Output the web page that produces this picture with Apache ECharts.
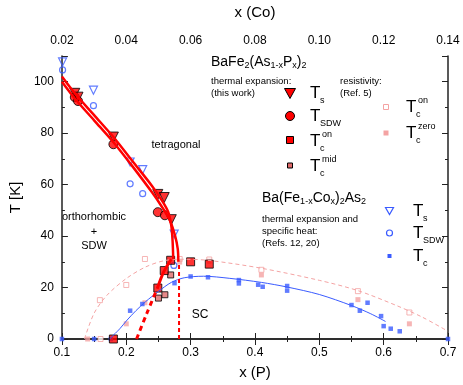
<!DOCTYPE html>
<html>
<head>
<meta charset="utf-8">
<script src="https://cdn.jsdelivr.net/npm/echarts@6/dist/echarts.min.js"></script>
<style>
  html, body { margin: 0; background: #fff; }
  #chart { width: 463px; height: 385px; }
</style>
</head>
<body>
<div id="chart"></div>
<script>
// BaFe2(As1-xPx)2, thermal expansion (this work) -- [x(P), T]
var pTs = [[0.12, 95.5], [0.125, 94], [0.18, 78.5], [0.249, 56.2], [0.259, 55], [0.27, 46.4]];
var pTsdw = [[0.12, 94], [0.125, 92.5], [0.18, 75.7], [0.249, 49.3], [0.26, 48.1]];
var pTcOn = [[0.18, 0], [0.249, 19.8], [0.259, 26.6], [0.269, 30.6], [0.3, 30], [0.329, 29.1]];
var pTcMid = [[0.25, 15.9], [0.26, 17.2], [0.269, 24.9]];

// resistivity, Ref. 5 -- [x(P), T]
var resTcOn = [[0.16, 0], [0.159, 15.1], [0.2, 21], [0.229, 31.1], [0.283, 31.1], [0.329, 30.9], [0.41, 26.9], [0.56, 18.6], [0.64, 10.3]];
var resTcZero = [[0.14, 0], [0.2, 5.9], [0.229, 14.1], [0.283, 29.9], [0.329, 30.2], [0.41, 24.9], [0.56, 15.3], [0.64, 5.9]];

// Ba(Fe1-xCox)2As2 (Refs. 12, 20) -- [x(Co), T]
var coTs = [[0.0202, 107.7], [0.0298, 96.7], [0.0412, 68.8], [0.0451, 65.8], [0.0549, 40.8]];
var coTsdw = [[0.0202, 104.6], [0.0298, 90.7], [0.0412, 60.3], [0.0451, 56.5], [0.0548, 28.6]];
var coTc = [[0.02, 0], [0.03, 0], [0.0352, 0], [0.0412, 11], [0.045, 13.6], [0.055, 21.7], [0.06, 24.3],
  [0.0654, 24], [0.075, 22.9], [0.075, 21.6], [0.081, 21.1], [0.0824, 20.3], [0.09, 20.6], [0.09, 18.8],
  [0.11, 13.2], [0.1126, 11], [0.115, 14.1], [0.1192, 8.9], [0.12, 5], [0.1222, 4], [0.125, 3], [0.14, 0]];

// guide lines
var tsLine = [[0.1, 102], [0.12, 95.5], [0.15, 87], [0.18, 78.5], [0.21, 69], [0.24, 59.5], [0.255, 54], [0.265, 49.5], [0.27, 44], [0.272, 38], [0.273, 31]];
var sdwLine = [[0.1, 100], [0.12, 93.5], [0.15, 85], [0.18, 76.5], [0.21, 67], [0.24, 57], [0.255, 51.5], [0.268, 46], [0.276, 40], [0.28, 35], [0.281, 30]];
var tcLine = [[0.248, 19.5], [0.258, 26], [0.27, 31]];
var tcDash = [[0.216, 0], [0.232, 10], [0.248, 19.5]];
var tcVert = [[0.282, 0], [0.282, 30]];
var resCurve = [[0.135, 0], [0.15, 10], [0.17, 17], [0.2, 23.5], [0.23, 28], [0.26, 30.5], [0.29, 31], [0.33, 30.5],
  [0.41, 27.5], [0.5, 22.8], [0.56, 18.8], [0.62, 13], [0.66, 8.5], [0.7, 3]];
var coCurve = [[0.0348, 0], [0.038, 4], [0.04, 7], [0.043, 11], [0.046, 14.5], [0.05, 18.5], [0.054, 22], [0.058, 23.8],
  [0.064, 24.4], [0.072, 23.6], [0.082, 22], [0.09, 20.2], [0.1, 17.3], [0.11, 13], [0.116, 9.8], [0.1206, 6.8]];

var RED = '#ff0000', BLUE = '#3a5bff', PINK = '#f4a3a3', MID = '#e06a6a';
var FONT = 'Liberation Sans, Arial, sans-serif';

function curve(data, color, width, type, xi) {
  return { type: 'line', data: data, xAxisIndex: xi || 0, showSymbol: false, smooth: 0.3, silent: true,
    lineStyle: { color: color, width: width, type: type || 'solid' } };
}
function dots(data, symbol, size, fill, border, bw, xi, rot) {
  return { type: 'scatter', data: data, xAxisIndex: xi || 0, symbol: symbol, symbolSize: size, symbolRotate: rot || 0,
    itemStyle: { color: fill, borderColor: border, borderWidth: bw } };
}
function txt(x, y, s, size, align) {
  return { type: 'text', x: x, y: y, style: { text: s, fontSize: size, fontFamily: FONT, fill: '#000',
    align: align || 'left', verticalAlign: 'middle' } };
}
// "T" with subscript and optional superscript
function tLabel(x, y, sub, sup) {
  var a = [txt(x, y, 'T', 17), txt(x + 10, y + 8, sub, 9)];
  if (sup) a.push(txt(x + 12, y - 6, sup, 9));
  return a;
}
var none = 'rgba(0,0,0,0)';

var graphics = [
  { type: 'text', x: 211, y: 62, style: { text: 'BaFe{s|2}(As{s|1-x}P{s|x}){s|2}', fontSize: 14, fontFamily: FONT,
    verticalAlign: 'middle', rich: { s: { fontSize: 9, verticalAlign: 'bottom', padding: [8, 0, 0, 0] } } } },
  txt(211, 81, 'thermal expansion:', 9.5), txt(211, 93, '(this work)', 9.5),
  txt(340, 81, 'resistivity:', 9.5), txt(340, 93, '(Ref. 5)', 9.5),
  { type: 'text', x: 262, y: 198, style: { text: 'Ba(Fe{s|1-x}Co{s|x}){s|2}As{s|2}', fontSize: 14, fontFamily: FONT,
    verticalAlign: 'middle', rich: { s: { fontSize: 9, verticalAlign: 'bottom', padding: [8, 0, 0, 0] } } } },
  txt(262, 219, 'thermal expansion and', 9.5), txt(262, 231, 'specific heat:', 9.5), txt(262, 243, '(Refs. 12, 20)', 9.5),
  txt(176, 145, 'tetragonal', 11, 'center'),
  txt(94, 217, 'orthorhombic', 11, 'center'), txt(94, 232, '+', 11, 'center'), txt(94, 246, 'SDW', 11, 'center'),
  txt(200, 315, 'SC', 12, 'center'),
  // legend symbols
  { type: 'polygon', shape: { points: [[284.5, 88.5], [295.5, 88.5], [290, 98.5]] }, style: { fill: RED, stroke: '#000', lineWidth: 1 } },
  { type: 'circle', shape: { cx: 290, cy: 116, r: 4.5 }, style: { fill: RED, stroke: '#000', lineWidth: 1 } },
  { type: 'rect', shape: { x: 286.5, y: 136.5, width: 7, height: 7 }, style: { fill: RED, stroke: '#000', lineWidth: 1 } },
  { type: 'rect', shape: { x: 287.5, y: 163, width: 5, height: 5 }, style: { fill: MID, stroke: '#000', lineWidth: 1 } },
  { type: 'rect', shape: { x: 383.5, y: 104.5, width: 5, height: 5 }, style: { fill: '#fff', stroke: PINK, lineWidth: 1 } },
  { type: 'rect', shape: { x: 383.5, y: 130.5, width: 5, height: 5 }, style: { fill: PINK } },
  { type: 'polygon', shape: { points: [[385.5, 207.5], [393.5, 207.5], [389.5, 214.5]] }, style: { fill: none, stroke: BLUE, lineWidth: 1.2 } },
  { type: 'circle', shape: { cx: 389.5, cy: 233, r: 3 }, style: { fill: none, stroke: BLUE, lineWidth: 1.2 } },
  { type: 'rect', shape: { x: 387.5, y: 254, width: 4, height: 4 }, style: { fill: BLUE } }
].concat(
  tLabel(310, 93, 's'), tLabel(310, 116, 'SDW'), tLabel(310, 141, 'c', 'on'), tLabel(310, 166, 'c', 'mid'),
  tLabel(406, 107, 'c', 'on'), tLabel(406, 133, 'c', 'zero'),
  tLabel(413, 211, 's'), tLabel(413, 233, 'SDW'), tLabel(413, 256, 'c')
);

var axisLine = { show: true, lineStyle: { color: '#222', width: 1.5 } };
var labelStyle = { color: '#000', fontSize: 12, fontFamily: FONT };
var option = {
  animation: false,
  grid: { left: 52, right: 15, top: 48, bottom: 45 },
  xAxis: [
    { type: 'value', position: 'bottom', min: 0.1, max: 0.7, interval: 0.1,
      name: 'x (P)', nameLocation: 'middle', nameGap: 26, nameTextStyle: { fontSize: 15, fontFamily: FONT, color: '#000' },
      axisLine: axisLine, axisTick: { inside: true, length: 6, lineStyle: { color: '#222' } },
      minorTick: { show: true, splitNumber: 2, length: 3, lineStyle: { color: '#222' } },
      axisLabel: Object.assign({ formatter: function (v) { return v.toFixed(1); } }, labelStyle), splitLine: { show: false } },
    { type: 'value', position: 'top', min: 0.02, max: 0.14, interval: 0.02,
      name: 'x (Co)', nameLocation: 'middle', nameGap: 36, nameTextStyle: { fontSize: 15, fontFamily: FONT, color: '#000' },
      axisLine: axisLine, axisTick: { inside: true, length: 6, lineStyle: { color: '#222' } },
      minorTick: { show: true, splitNumber: 2, length: 3, lineStyle: { color: '#222' } },
      axisLabel: Object.assign({ margin: 9, formatter: function (v) { return v.toFixed(2); } }, labelStyle), splitLine: { show: false } }
  ],
  yAxis: [
    { type: 'value', position: 'left', min: 0, max: 110, interval: 20,
      name: 'T [K]', nameLocation: 'middle', nameGap: 33, nameTextStyle: { fontSize: 15, fontFamily: FONT, color: '#000' },
      axisLine: axisLine, axisTick: { inside: true, length: 6, lineStyle: { color: '#222' } },
      minorTick: { show: true, splitNumber: 2, length: 3, lineStyle: { color: '#222' } },
      axisLabel: Object.assign({ formatter: function (v) { return v % 20 === 0 ? String(v) : ''; } }, labelStyle),
      splitLine: { show: false } },
    { type: 'value', position: 'right', min: 0, max: 110, interval: 20,
      axisLine: axisLine, axisTick: { inside: true, length: 6, lineStyle: { color: '#222' } },
      minorTick: { show: true, splitNumber: 2, length: 3, lineStyle: { color: '#222' } },
      axisLabel: { show: false }, splitLine: { show: false } }
  ],
  graphic: graphics,
  series: [
    curve(resCurve, PINK, 1, [4, 3]),
    dots(resTcOn, 'rect', 5, '#fff', PINK, 1),
    dots(resTcZero, 'rect', 5, PINK, PINK, 0),
    curve(coCurve, BLUE, 1, 'solid', 1),
    dots(coTc, 'rect', 4.5, BLUE, BLUE, 0, 1),
    dots(coTs, 'triangle', 8, none, BLUE, 1.2, 1, 180),
    dots(coTsdw, 'circle', 6, none, BLUE, 1.2, 1),
    curve(tsLine, RED, 2.5),
    curve(sdwLine, RED, 2.5),
    curve(tcLine, RED, 3),
    curve(tcDash, RED, 3, [5, 4]),
    curve(tcVert, RED, 2, [4, 3]),
    dots(pTcMid, 'rect', 6, MID, '#000', 1),
    dots(pTcOn, 'rect', 8, RED, '#000', 1),
    dots(pTsdw, 'circle', 9, RED, '#000', 1),
    dots(pTs, 'triangle', 10, RED, '#000', 1, 0, 180)
  ]
};

var chart = echarts.init(document.getElementById('chart'));
chart.setOption(option);
window.onresize = chart.resize;
</script>
</body>
</html>
